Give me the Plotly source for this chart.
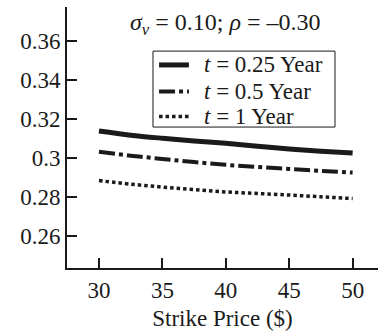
import plotly.graph_objects as go

# Strike prices ($) and implied volatility for three maturities
strike = [30, 32.5, 35, 37.5, 40, 42.5, 45, 47.5, 50]
vol_025 = [0.3138, 0.3117, 0.3101, 0.3087, 0.3075, 0.3060, 0.3046, 0.3035, 0.3025]
vol_05 = [0.3032, 0.3012, 0.2995, 0.2979, 0.2965, 0.2954, 0.2944, 0.2934, 0.2925]
vol_1 = [0.2884, 0.2866, 0.2851, 0.2838, 0.2826, 0.2818, 0.2810, 0.2801, 0.2792]

names = ["<i>t</i> = 0.25 Year", "<i>t</i> = 0.5 Year", "<i>t</i> = 1 Year"]
x_ticks = [30, 35, 40, 45, 50]
y_ticks = [0.26, 0.28, 0.30, 0.32, 0.34, 0.36]
y_tick_text = ["0.26", "0.28", "0.3", "0.32", "0.34", "0.36"]

FONT = "Liberation Serif"
INK = "#1a1a1a"

# line styles for the three maturities
styles = [
    dict(color=INK, width=5),
    dict(color=INK, width=4, dash="16px,4px,4px,4px"),
    dict(color=INK, width=3.5, dash="3.5px,3px"),
]
series = [vol_025, vol_05, vol_1]

fig = go.Figure()
for name, vals, st in zip(names, series, styles):
    fig.add_trace(go.Scatter(x=strike, y=vals, mode="lines", name=name,
                             line=dict(shape="spline", **st),
                             showlegend=False))

# key box in the upper part of the plot area (paper coordinates)
key_x0, key_x1, key_y0, key_y1 = 0.2765, 0.8617, 0.540, 0.831
row_y = [0.778, 0.676, 0.580]
sample_x0, sample_x1, text_x = 0.296, 0.392, 0.434

shapes = [dict(type="rect", xref="paper", yref="paper",
               x0=key_x0, x1=key_x1, y0=key_y0, y1=key_y1,
               line=dict(color=INK, width=1), fillcolor="white", layer="above")]
annotations = [dict(
    text="<i>σ</i><sub><i>v</i></sub> = 0.10; <i>ρ</i> = –0.30",
    xref="paper", yref="paper", x=0.51, y=1.0, xanchor="center",
    yanchor="top", showarrow=False, font=dict(family=FONT, size=24))]
for name, st, ry in zip(names, styles, row_y):
    shapes.append(dict(type="line", xref="paper", yref="paper",
                       x0=sample_x0, x1=sample_x1, y0=ry, y1=ry,
                       line=st, layer="above"))
    annotations.append(dict(text=name, xref="paper", yref="paper",
                            x=text_x, y=ry, xanchor="left", yanchor="middle",
                            showarrow=False, font=dict(family=FONT, size=23)))

fig.update_layout(
    width=378, height=335,
    margin=dict(l=67, r=0, t=7, b=67),
    paper_bgcolor="white", plot_bgcolor="white",
    font=dict(family=FONT, size=23, color=INK),
    showlegend=False,
    shapes=shapes,
    annotations=annotations,
)

fig.update_xaxes(
    range=[27.48, 52.0], tickvals=x_ticks, ticks="inside", ticklen=10,
    tickwidth=2, tickcolor=INK, showline=True, linewidth=2,
    linecolor=INK, showgrid=False, zeroline=False,
    tickfont=dict(family=FONT, size=23),
    title=dict(text="Strike Price ($)", font=dict(family=FONT, size=23),
               standoff=8),
)
fig.update_yaxes(
    range=[0.2436, 0.3774], tickvals=y_ticks, ticktext=y_tick_text,
    ticks="inside", ticklen=10, tickwidth=2, tickcolor=INK,
    showline=True, linewidth=2, linecolor=INK, showgrid=False,
    zeroline=False, tickfont=dict(family=FONT, size=23),
)

fig.write_html("out.html")
